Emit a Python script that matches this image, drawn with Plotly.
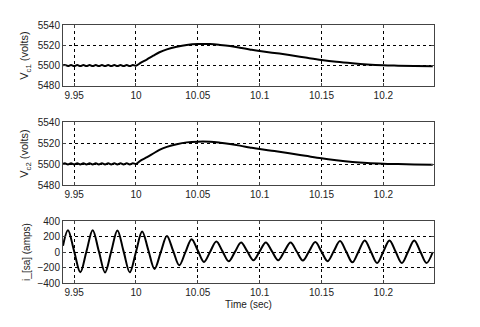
import plotly.graph_objects as go
from plotly.subplots import make_subplots

# capacitor voltages
t_v = [9.941, 9.9425, 9.945, 9.9475, 9.950, 9.9525, 9.955, 9.9575, 9.960, 9.9625,
       9.965, 9.9675, 9.970, 9.9725, 9.975, 9.9775, 9.980, 9.9825, 9.985, 9.9875,
       9.990, 9.9925, 9.995, 9.9975, 10.000, 10.004, 10.009, 10.014, 10.019, 10.025,
       10.033, 10.041, 10.050, 10.060, 10.068, 10.076, 10.084, 10.092, 10.100, 10.112,
       10.124, 10.137, 10.150, 10.162, 10.175, 10.187, 10.200, 10.212, 10.225, 10.240]
v_c1 = [5500.2, 5500.7, 5499.6, 5500.7, 5499.6, 5500.7, 5499.6, 5500.7, 5499.6, 5500.7,
        5499.6, 5500.7, 5499.6, 5500.7, 5499.6, 5500.7, 5499.6, 5500.7, 5499.6, 5500.7,
        5499.6, 5500.7, 5499.6, 5500.7, 5500.0, 5503.0, 5506.3, 5509.8, 5513.2, 5516.0,
        5518.6, 5520.4, 5521.3, 5521.2, 5520.4, 5519.3, 5517.7, 5516.0, 5514.4, 5512.5,
        5510.5, 5508.0, 5505.6, 5503.8, 5502.3, 5501.2, 5500.4, 5500.0, 5499.6, 5499.3]
v_c2 = [5500.0, 5500.7, 5499.6, 5500.7, 5499.6, 5500.7, 5499.6, 5500.7, 5499.6, 5500.7,
        5499.6, 5500.7, 5499.6, 5500.7, 5499.6, 5500.7, 5499.6, 5500.7, 5499.6, 5500.7,
        5499.6, 5500.7, 5499.6, 5500.7, 5500.0, 5503.5, 5506.5, 5510.0, 5513.5, 5516.3,
        5518.9, 5520.6, 5521.3, 5521.2, 5520.3, 5519.0, 5517.5, 5515.8, 5514.2, 5512.3,
        5510.2, 5507.8, 5505.4, 5503.6, 5502.0, 5501.0, 5500.3, 5499.9, 5499.5, 5499.2]

# phase current: peaks, troughs and zero crossings per half cycle
t_i = [9.941, 9.945, 9.950, 9.955, 9.960, 9.965, 9.970, 9.975, 9.980, 9.985,
       9.990, 9.995, 10.000, 10.005, 10.010, 10.015, 10.020, 10.025, 10.030, 10.035,
       10.040, 10.045, 10.050, 10.055, 10.060, 10.065, 10.070, 10.075, 10.080, 10.085,
       10.090, 10.095, 10.100, 10.105, 10.110, 10.115, 10.120, 10.125, 10.130, 10.135,
       10.140, 10.145, 10.150, 10.155, 10.160, 10.165, 10.170, 10.175, 10.180, 10.185,
       10.190, 10.195, 10.200, 10.205, 10.210, 10.215, 10.220, 10.225, 10.230, 10.235,
       10.240]
i_sa = [80, 282, 10, -262, 10, 282, 9, -264, 7, 278,
        8, -262, 1, 264, 23, -218, -5, 208, 18, -171,
        -2, 166, 19, -128, 4, 136, 8, -120, 1, 123,
        8, -107, 8, 123, 8, -107, 8, 123, 6, -110,
        9, 128, 5, -118, 12, 142, 5, -133, 8, 149,
        4, -141, 4, 149, 4, -141, 4, 149, 4, -141,
        0]

x_ticks = [9.95, 10, 10.05, 10.1, 10.15, 10.2]
x_labels = ["9.95", "10", "10.05", "10.1", "10.15", "10.2"]
v_ticks = [5480, 5500, 5520, 5540]
i_ticks = [-400, -200, 0, 200, 400]

fig = make_subplots(rows=3, cols=1)
line = dict(color="black", width=2, shape="spline")
fig.add_trace(go.Scatter(x=t_v, y=v_c1, mode="lines", line=line), row=1, col=1)
fig.add_trace(go.Scatter(x=t_v, y=v_c2, mode="lines", line=line), row=2, col=1)
fig.add_trace(go.Scatter(x=t_i, y=i_sa, mode="lines", line=line), row=3, col=1)

ax_style = dict(showline=True, linecolor="#444", linewidth=1, mirror="ticks",
                ticks="inside", ticklen=3, tickcolor="#444",
                showgrid=True, gridcolor="black", griddash="dot", gridwidth=1,
                zeroline=False, tickfont=dict(size=10, color="#222"))
for r in (1, 2, 3):
    fig.update_xaxes(range=[9.941, 10.241], tickvals=x_ticks, ticktext=x_labels,
                     row=r, col=1, **ax_style)
fig.update_yaxes(range=[5480, 5540], tickvals=v_ticks, row=1, col=1, **ax_style,
                 title=dict(text="V<sub>c1</sub> (volts)", font=dict(size=11), standoff=6))
fig.update_yaxes(range=[5480, 5540], tickvals=v_ticks, row=2, col=1, **ax_style,
                 title=dict(text="V<sub>c2</sub> (volts)", font=dict(size=11), standoff=6))
fig.update_yaxes(range=[-400, 400], tickvals=i_ticks, row=3, col=1, **ax_style,
                 title=dict(text="i_[sa] (amps)", font=dict(size=10), standoff=4))
fig.update_xaxes(title=dict(text="Time (sec)", font=dict(size=10, color="#222"), standoff=3),
                 row=3, col=1)

# page body adds 8px offset, so margins are shifted to compensate
fig.update_layout(
    width=480, height=327,
    margin=dict(l=55, r=54, t=17, b=52),
    plot_bgcolor="white", paper_bgcolor="white",
    showlegend=False,
    font=dict(family="Liberation Sans, Arial, sans-serif", color="#222"),
    yaxis=dict(domain=[0.7636, 1.0]),
    yaxis2=dict(domain=[0.3798, 0.624]),
    yaxis3=dict(domain=[0.0, 0.2403]),
)

fig.write_html("out.html")
